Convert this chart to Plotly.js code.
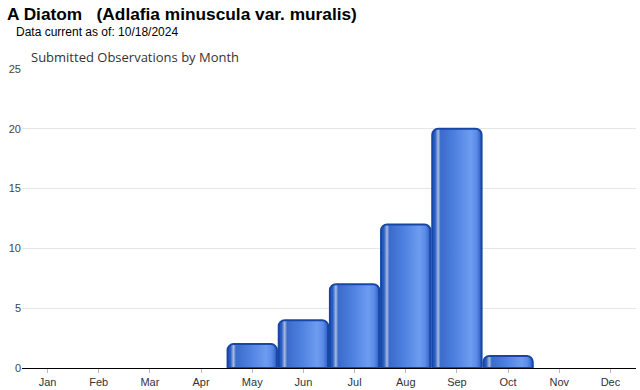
<!DOCTYPE html>
<html><head><meta charset="utf-8">
<script src="https://cdn.plot.ly/plotly-3.0.1.min.js"></script>
<style>body{margin:0;background:#fff}#c{width:640px;height:390px}</style>
</head><body><div id="c"></div>
<script>
const months = ["Jan","Feb","Mar","Apr","May","Jun","Jul","Aug","Sep","Oct","Nov","Dec"];
const counts = [0,0,0,0,2,4,7,12,20,1,0,0];
const yTicks = [0,5,10,15,20,25];

const L = 22, R = 4, T = 69, B = 22, W = 640, H = 390;
const pw = W - L - R, ph = H - T - B;
function px(x){ return (x - L) / pw; }
function py(y){ return (H - B - y) / ph; }

const trace = {
  type: "bar", x: months, y: counts,
  marker: { color: "#4a7de0", line: { color: "#1747a6", width: counts.map(function(v){ return v > 0 ? 2 : 0; }) }, cornerradius: 6 },
  hoverinfo: "x+y"
};
const layout = {
  width: W, height: H,
  margin: { l: L, r: R, t: T, b: B, pad: 0 },
  paper_bgcolor: "#fff", plot_bgcolor: "#fff",
  bargap: 0.035,
  showlegend: false,
  font: { family: "Liberation Sans, Arial, sans-serif", size: 11, color: "#333" },
  xaxis: { type: "category", tickfont: { size: 11, color: "#333" }, ticks: "outside", ticklen: 4, tickcolor: "#bbb",
           showline: true, linecolor: "#000", linewidth: 1.2, showgrid: false, fixedrange: true },
  yaxis: { range: [0, 25], tickvals: yTicks, tickfont: { size: 11, color: "#444" }, gridcolor: "#e6e6e6",
           zeroline: false, ticks: "", showline: false, fixedrange: true },
  annotations: [
    { text: "<b>A Diatom   (Adlafia minuscula var. muralis)</b>", xref: "paper", yref: "paper",
      x: px(5), y: py(14), xanchor: "left", yanchor: "middle", showarrow: false,
      font: { family: "Liberation Sans, Arial, sans-serif", size: 17.3, color: "#000" } },
    { text: "Data current as of: 10/18/2024", xref: "paper", yref: "paper",
      x: px(14), y: py(32), xanchor: "left", yanchor: "middle", showarrow: false,
      font: { family: "Liberation Sans, Arial, sans-serif", size: 12, color: "#000" } },
    { text: "Submitted Observations by Month", xref: "paper", yref: "paper",
      x: px(29), y: py(57), xanchor: "left", yanchor: "middle", showarrow: false,
      font: { family: "Open Sans, DejaVu Sans, sans-serif", size: 13, color: "#333" } }
  ]
};
Plotly.newPlot("c", [trace], layout, { displayModeBar: false, staticPlot: true }).then(function(){
  const svg = document.querySelector("#c svg.main-svg");
  const ns = "http://www.w3.org/2000/svg";
  let defs = svg.querySelector("defs");
  if (!defs) { defs = document.createElementNS(ns, "defs"); svg.insertBefore(defs, svg.firstChild); }
  const g = document.createElementNS(ns, "linearGradient");
  g.setAttribute("id", "cyl"); g.setAttribute("x1", "0"); g.setAttribute("x2", "1"); g.setAttribute("y1", "0"); g.setAttribute("y2", "0");
  const stops = [[0,"#1f52b8"],[0.06,"#2d60c4"],[0.12,"#a9bbdc"],[0.17,"#3b6bcc"],[0.45,"#4d80e0"],[0.78,"#6d9df0"],[0.9,"#5a8ae6"],[1,"#2a5cc0"]];
  stops.forEach(function(s){ const st = document.createElementNS(ns, "stop"); st.setAttribute("offset", s[0]); st.setAttribute("stop-color", s[1]); g.appendChild(st); });
  defs.appendChild(g);
  document.querySelectorAll("#c .bars .point path").forEach(function(p){ p.style.fill = "url(#cyl)"; });
});
</script></body></html>
